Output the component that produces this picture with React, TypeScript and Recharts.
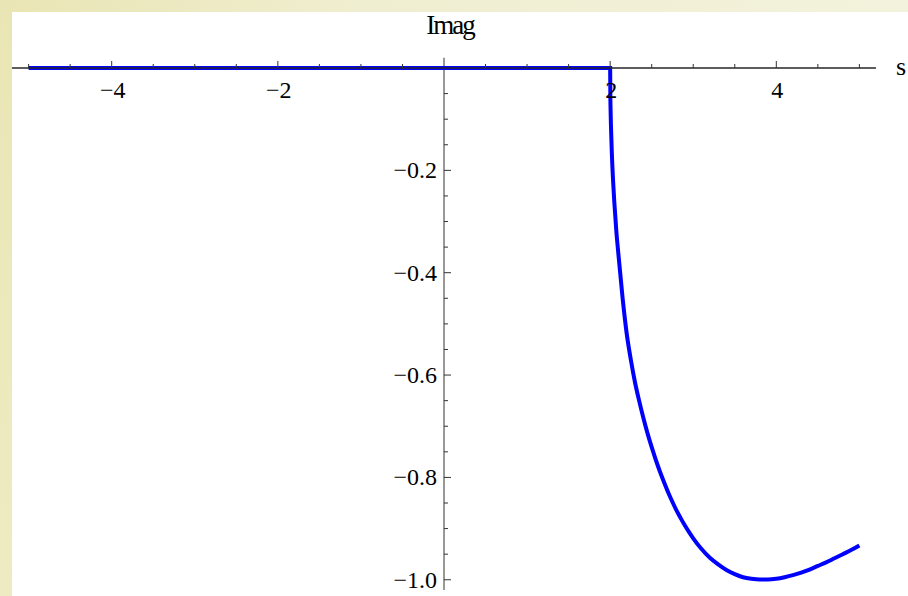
import { LineChart, Line, XAxis, YAxis, ReferenceLine } from "recharts";

// Im part vs s
const S_VALUES = [
  -5, 2, 2.002, 2.005, 2.01, 2.02, 2.035, 2.05, 2.075, 2.1, 2.15, 2.2, 2.25, 2.3, 2.35, 2.4, 2.45, 2.5,
  2.55, 2.6, 2.65, 2.7, 2.75, 2.8, 2.85, 2.9, 2.95, 3.0, 3.1, 3.2, 3.3, 3.4, 3.5, 3.6, 3.7, 3.8, 3.9,
  4.0, 4.1, 4.2, 4.3, 4.4, 4.5, 4.6, 4.7, 4.8, 4.9, 5.0,
];
const IMAG_VALUES = [
  0, 0, -0.05, -0.08, -0.115, -0.165, -0.22, -0.262, -0.32, -0.365, -0.45, -0.52, -0.571, -0.615,
  -0.651, -0.684, -0.714, -0.741, -0.766, -0.789, -0.81, -0.83, -0.848, -0.865, -0.88, -0.894, -0.907,
  -0.919, -0.94, -0.957, -0.97, -0.981, -0.989, -0.995, -0.998, -0.9995, -0.9995, -0.998, -0.995,
  -0.991, -0.986, -0.98, -0.973, -0.966, -0.958, -0.95, -0.942, -0.933,
];

const X_TICKS = [-5, -4.5, -4, -3.5, -3, -2.5, -2, -1.5, -1, -0.5, 0.5, 1, 1.5, 2, 2.5, 3, 3.5, 4, 4.5, 5];
const X_LABELS = [-4, -2, 2, 4];
const Y_TICKS = [
  -1, -0.95, -0.9, -0.85, -0.8, -0.75, -0.7, -0.65, -0.6, -0.55, -0.5, -0.45, -0.4, -0.35, -0.3, -0.25,
  -0.2, -0.15, -0.1, -0.05,
];
const Y_LABELS = [-1, -0.8, -0.6, -0.4, -0.2];

const X_DOMAIN = [-5.2, 5.2];
const Y_DOMAIN = [-1.02, 0];

const W = 908;
const H = 596;
const MARGIN = { top: 38, right: 32, bottom: 6, left: 0 };
const X_AXIS_H = 30;
const Y_AXIS_W = 12;
const PLOT_W = W - MARGIN.left - MARGIN.right - Y_AXIS_W;
// pixel column of s = 0, where the vertical axis sits
const ZERO_X = MARGIN.left + Y_AXIS_W + (PLOT_W * (0 - X_DOMAIN[0])) / (X_DOMAIN[1] - X_DOMAIN[0]);

const FONT = "'Liberation Serif', 'Times New Roman', serif";
const AXIS = "#333";

const data = S_VALUES.map((s, i) => ({ s, v: IMAG_VALUES[i] }));

const fmt = (v: number, digits: number) => v.toFixed(digits).replace("-", "\u2212");

function XTick(props: any) {
  const { x, y, payload } = props;
  const v = payload.value;
  const labelled = X_LABELS.includes(v);
  return (
    <g>
      <line x1={x} x2={x} y1={y} y2={y - (labelled ? 7 : 4)} stroke={AXIS} />
      {labelled && (
        <text x={x + 1} y={y + 30} textAnchor="middle" fontFamily={FONT} fontSize={24} fill="#000">
          {fmt(v, 0)}
        </text>
      )}
    </g>
  );
}

function YTick(props: any) {
  const { y, payload } = props;
  const v = payload.value;
  const major = Y_LABELS.some((l) => Math.abs(l - v) < 1e-9);
  return (
    <g>
      <line x1={ZERO_X} x2={ZERO_X + (major ? 7 : 4)} y1={y} y2={y} stroke={AXIS} />
      {major && (
        <text x={ZERO_X - 7} y={y + 8} textAnchor="end" fontFamily={FONT} fontSize={24} fill="#000">
          {fmt(v, 1)}
        </text>
      )}
    </g>
  );
}

export default function App() {
  return (
    <div style={{ position: "absolute", left: 0, top: 0, width: W, height: H, overflow: "hidden", background: "#fff" }}>
      <div
        style={{
          position: "absolute",
          left: 0,
          top: 0,
          width: W,
          height: 12,
          background: "linear-gradient(to right, #e9e5b4, #f0eed0 40%, #f3f2dc)",
        }}
      />
      <div
        style={{
          position: "absolute",
          left: 0,
          top: 0,
          width: 12,
          height: H,
          background: "linear-gradient(to bottom, #e9e5b4, #ece9bd 60%, #eeebc2)",
        }}
      />
      <div style={{ position: "absolute", left: 0, top: 0 }}>
        <LineChart width={W} height={H} data={data} margin={MARGIN}>
          <XAxis
            dataKey="s"
            type="number"
            orientation="top"
            domain={X_DOMAIN}
            ticks={X_TICKS}
            interval={0}
            height={X_AXIS_H}
            tickSize={0}
            tickMargin={0}
            tickLine={false}
            axisLine={{ stroke: AXIS }}
            tick={<XTick />}
            allowDataOverflow
          />
          <YAxis
            type="number"
            domain={Y_DOMAIN}
            ticks={Y_TICKS}
            interval={0}
            width={Y_AXIS_W}
            tickLine={false}
            axisLine={false}
            tick={<YTick />}
          />
          <ReferenceLine
            segment={[
              { x: 0, y: -1.02 },
              { x: 0, y: 0.02 },
            ]}
            stroke={AXIS}
            ifOverflow="visible"
          />
          <Line
            dataKey="v"
            type="monotone"
            stroke="#0000ff"
            strokeWidth={4}
            dot={false}
            isAnimationActive={false}
          />
          <ReferenceLine y={0} stroke="#111" strokeWidth={1} />
        </LineChart>
      </div>
      <div
        style={{
          position: "absolute",
          left: 450,
          top: 10,
          transform: "translateX(-50%)",
          fontFamily: FONT,
          fontSize: 27,
          letterSpacing: -2,
          lineHeight: "30px",
          color: "#000",
        }}
      >
        Imag
      </div>
      <div
        style={{
          position: "absolute",
          left: 896,
          top: 52,
          fontFamily: FONT,
          fontSize: 26,
          lineHeight: "30px",
          color: "#000",
        }}
      >
        s
      </div>
    </div>
  );
}
